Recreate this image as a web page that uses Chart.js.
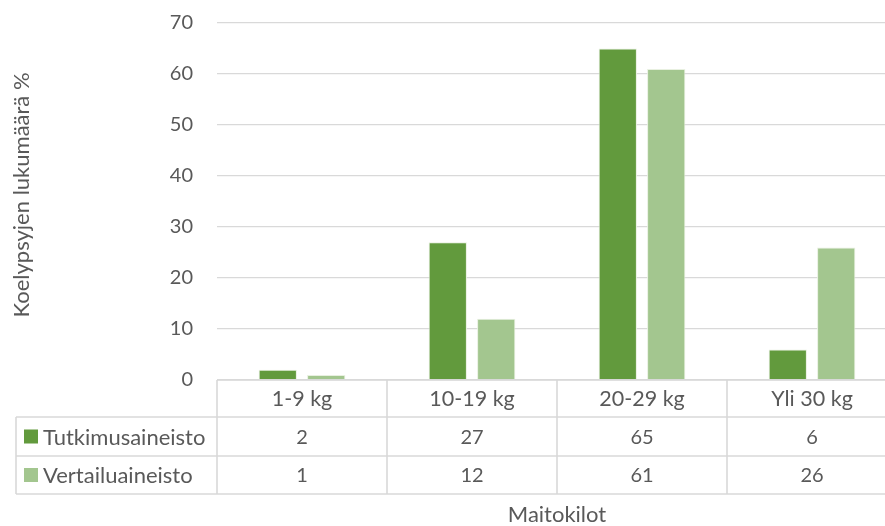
<!DOCTYPE html>
<html>
<head>
<meta charset="utf-8">
<script src="https://cdn.jsdelivr.net/npm/chart.js@4/dist/chart.umd.min.js"></script>
<style>
  html, body { margin: 0; padding: 0; background: #fff; }
  #wrap { width: 885px; height: 526px; overflow: hidden; position: relative; }
  canvas { display: block; }
</style>
</head>
<body>
<div id="wrap"><canvas id="c" width="900" height="526"></canvas></div>
<script>
const categories = ['1-9 kg', '10-19 kg', '20-29 kg', 'Yli 30 kg'];
const seriesNames = ['Tutkimusaineisto', 'Vertailuaineisto'];
const tutkimus = [2, 27, 65, 6];
const vertailu = [1, 12, 61, 26];
const yTitle = 'Koelypsyjen lukumäärä %';
const xTitle = 'Maitokilot';

const colors = ['#629a3d', '#a3c68f'];
const textColor = '#595959';
const lineColor = '#d9d9d9';
const FONT = 'Lato, "Liberation Sans", sans-serif';

// Data table under the plot: category header row plus one row per series
const tablePlugin = {
  id: 'dataTable',
  afterDraw(chart) {
    const ctx = chart.ctx;
    const x = chart.scales.x;
    const area = chart.chartArea;
    const rows = [area.bottom, 417, 456, 494];
    const legendLeft = 16;
    const n = categories.length;
    const half = (x.getPixelForValue(1) - x.getPixelForValue(0)) / 2;
    const bounds = [];
    for (let i = 0; i < n; i++) {
      const c = x.getPixelForValue(i);
      bounds.push([c - half, c + half]);
    }
    const right = bounds[n - 1][1];
    ctx.save();
    ctx.strokeStyle = lineColor;
    ctx.lineWidth = 1.6;
    ctx.beginPath();
    ctx.moveTo(area.left, rows[0]); ctx.lineTo(right, rows[0]);
    for (let r = 1; r < rows.length; r++) {
      ctx.moveTo(legendLeft, rows[r]); ctx.lineTo(right, rows[r]);
    }
    ctx.moveTo(legendLeft, rows[1]); ctx.lineTo(legendLeft, rows[3]);
    for (let i = 0; i < n; i++) {
      ctx.moveTo(bounds[i][0], rows[0]); ctx.lineTo(bounds[i][0], rows[3]);
    }
    ctx.moveTo(right, rows[0]); ctx.lineTo(right, rows[3]);
    ctx.stroke();

    ctx.fillStyle = textColor;
    ctx.textAlign = 'center';
    ctx.textBaseline = 'middle';
    const data = [tutkimus, vertailu];
    for (let i = 0; i < n; i++) {
      const cx = x.getPixelForValue(i);
      ctx.font = '21.5px ' + FONT;
      ctx.fillText(categories[i], cx, (rows[0] + rows[1]) / 2 + 1);
      ctx.font = '20px ' + FONT;
      for (let s = 0; s < data.length; s++) {
        ctx.fillText(String(data[s][i]), cx, (rows[s + 1] + rows[s + 2]) / 2 + 1);
      }
    }
    ctx.textAlign = 'left';
    ctx.font = '22px ' + FONT;
    for (let s = 0; s < seriesNames.length; s++) {
      const cy = (rows[s + 1] + rows[s + 2]) / 2;
      ctx.fillStyle = colors[s];
      ctx.fillRect(24, cy - 7, 14, 14);
      ctx.fillStyle = textColor;
      ctx.fillText(seriesNames[s], 43, cy + 1);
    }

    // axis titles
    ctx.textAlign = 'center';
    ctx.fillText(xTitle, (area.left + right) / 2, 515);
    ctx.translate(22, 195);
    ctx.rotate(-Math.PI / 2);
    ctx.fillText(yTitle, 0, 0);
    ctx.restore();
  }
};

new Chart(document.getElementById('c'), {
  type: 'bar',
  data: {
    labels: categories,
    datasets: [
      { label: seriesNames[0], data: tutkimus, backgroundColor: colors[0], borderColor: '#e8f0e0', borderWidth: 1 },
      { label: seriesNames[1], data: vertailu, backgroundColor: colors[1], borderColor: '#e8f0e0', borderWidth: 1 }
    ]
  },
  options: {
    responsive: false,
    animation: false,
    events: [],
    layout: { padding: { left: 0, right: 3, top: 23, bottom: 146 } },
    plugins: { legend: { display: false }, tooltip: { enabled: false } },
    datasets: { bar: { categoryPercentage: 0.57, barPercentage: 0.79 } },
    scales: {
      x: {
        display: false
      },
      y: {
        min: 0,
        max: 70,
        ticks: { stepSize: 10, color: textColor, font: { family: FONT, size: 20 }, padding: 24 },
        grid: { color: lineColor, lineWidth: 1.3, drawTicks: false },
        border: { display: false },
        afterFit(scale) {
          scale.width = 217;
          scale.paddingTop = 0;
          scale.paddingBottom = 0;
        }
      }
    }
  },
  plugins: [tablePlugin]
});
</script>
</body>
</html>
